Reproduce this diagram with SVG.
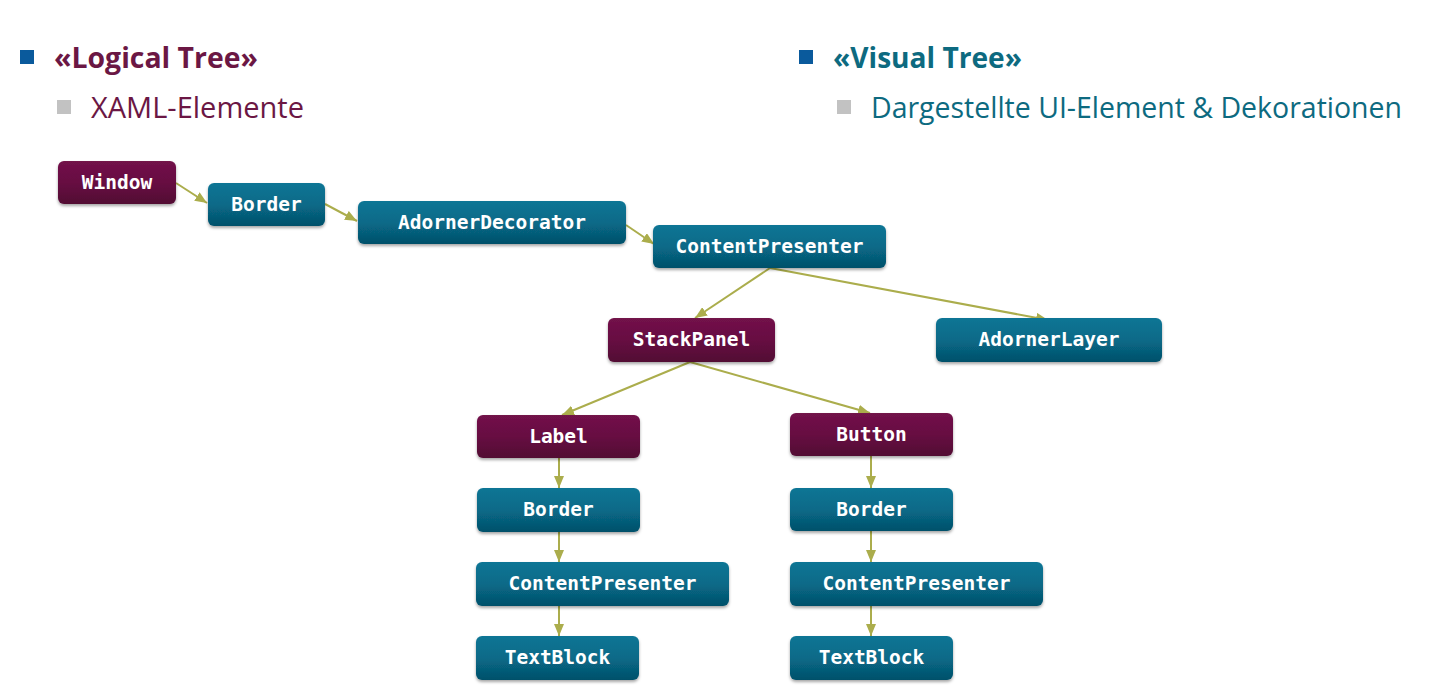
<svg xmlns="http://www.w3.org/2000/svg" width="1436" height="698" viewBox="0 0 1436 698">
<defs>
<linearGradient id="gm" x1="0" y1="0" x2="0" y2="1"><stop offset="0" stop-color="#721249"/><stop offset="0.5" stop-color="#670e42"/><stop offset="1" stop-color="#520833"/></linearGradient>
<linearGradient id="gt" x1="0" y1="0" x2="0" y2="1"><stop offset="0" stop-color="#0a7595"/><stop offset="0.5" stop-color="#086a88"/><stop offset="1" stop-color="#04506a"/></linearGradient>
<filter id="sh" x="-10%" y="-20%" width="120%" height="150%"><feDropShadow dx="0" dy="2" stdDeviation="1.8" flood-color="#000" flood-opacity="0.35"/></filter>
<marker id="ah" viewBox="0 0 12 10" refX="12" refY="5" markerWidth="12" markerHeight="10" markerUnits="userSpaceOnUse" orient="auto"><path d="M0,0 L12,5 L0,10 Z" fill="#abad4c"/></marker>
</defs>
<style>
.m rect{fill:url(#gm)}
.t rect{fill:url(#gt)}
.n rect{filter:url(#sh)}
.n text{font-family:"DejaVu Sans Mono","Liberation Mono",monospace;font-weight:bold;font-size:19.5px;fill:#fff;text-anchor:middle}
#conn line{stroke:#abad4c;stroke-width:2;marker-end:url(#ah)}
.h{font-family:"Open Sans","Noto Sans",sans-serif;font-weight:bold;font-size:28.5px}
.s{font-family:"Open Sans","Noto Sans",sans-serif;font-size:28.5px}
</style>
<rect width="1436" height="698" fill="#fff"/>
<g id="headings">
<rect x="20" y="50" width="14" height="14" fill="#0a5a9c"/>
<text class="h" x="54" y="68" fill="#6b1744" textLength="204" lengthAdjust="spacingAndGlyphs">«Logical Tree»</text>
<rect x="57" y="100" width="14" height="14" fill="#c2c2c2"/>
<text class="s" x="91" y="118" fill="#6b1744" textLength="213" lengthAdjust="spacingAndGlyphs">XAML-Elemente</text>
<rect x="799" y="50" width="14" height="14" fill="#0a5a9c"/>
<text class="h" x="833" y="68" fill="#0d6a80" textLength="189" lengthAdjust="spacingAndGlyphs">«Visual Tree»</text>
<rect x="837" y="100" width="14" height="14" fill="#c2c2c2"/>
<text class="s" x="871" y="118" fill="#0d6a80" textLength="531" lengthAdjust="spacingAndGlyphs">Dargestellte UI-Element &amp; Dekorationen</text>
</g>
<g id="conn">
<line x1="176" y1="183" x2="207" y2="203"/>
<line x1="325" y1="204" x2="357" y2="221"/>
<line x1="626" y1="225" x2="654" y2="244"/>
<line x1="770" y1="268" x2="695" y2="318"/>
<line x1="770" y1="268" x2="1048" y2="320"/>
<line x1="690" y1="362" x2="562" y2="415"/>
<line x1="690" y1="362" x2="870" y2="413"/>
<line x1="559" y1="458" x2="559" y2="488"/>
<line x1="559" y1="532" x2="559" y2="562"/>
<line x1="559" y1="606" x2="559" y2="636"/>
<line x1="871" y1="456" x2="871" y2="488"/>
<line x1="871" y1="531" x2="871" y2="562"/>
<line x1="871" y1="606" x2="871" y2="636"/>
</g>
<g id="window" class="n m"><rect x="58" y="161" width="118" height="43" rx="6"/><text x="117" y="189">Window</text></g>
<g id="border1" class="n t"><rect x="208" y="183" width="117" height="43" rx="6"/><text x="266.5" y="211">Border</text></g>
<g id="adornerDecorator" class="n t"><rect x="358" y="201" width="268" height="43" rx="6"/><text x="492" y="229">AdornerDecorator</text></g>
<g id="contentPresenter1" class="n t"><rect x="653" y="225" width="233" height="43" rx="6"/><text x="769.5" y="253">ContentPresenter</text></g>
<g id="stackPanel" class="n m"><rect x="608" y="318" width="167" height="44" rx="6"/><text x="691.5" y="346">StackPanel</text></g>
<g id="adornerLayer" class="n t"><rect x="936" y="318" width="226" height="44" rx="6"/><text x="1049" y="346">AdornerLayer</text></g>
<g id="label" class="n m"><rect x="477" y="415" width="163" height="43" rx="6"/><text x="558.5" y="443">Label</text></g>
<g id="button" class="n m"><rect x="790" y="413" width="163" height="43" rx="6"/><text x="871.5" y="441">Button</text></g>
<g id="border2" class="n t"><rect x="477" y="488" width="163" height="44" rx="6"/><text x="558.5" y="516">Border</text></g>
<g id="border3" class="n t"><rect x="790" y="488" width="163" height="43" rx="6"/><text x="871.5" y="516">Border</text></g>
<g id="contentPresenter2" class="n t"><rect x="476" y="562" width="253" height="44" rx="6"/><text x="602.5" y="590">ContentPresenter</text></g>
<g id="contentPresenter3" class="n t"><rect x="790" y="562" width="253" height="44" rx="6"/><text x="916.5" y="590">ContentPresenter</text></g>
<g id="textBlock1" class="n t"><rect x="476" y="636" width="163" height="44" rx="6"/><text x="557.5" y="664">TextBlock</text></g>
<g id="textBlock2" class="n t"><rect x="790" y="636" width="163" height="44" rx="6"/><text x="871.5" y="664">TextBlock</text></g>
</svg>
